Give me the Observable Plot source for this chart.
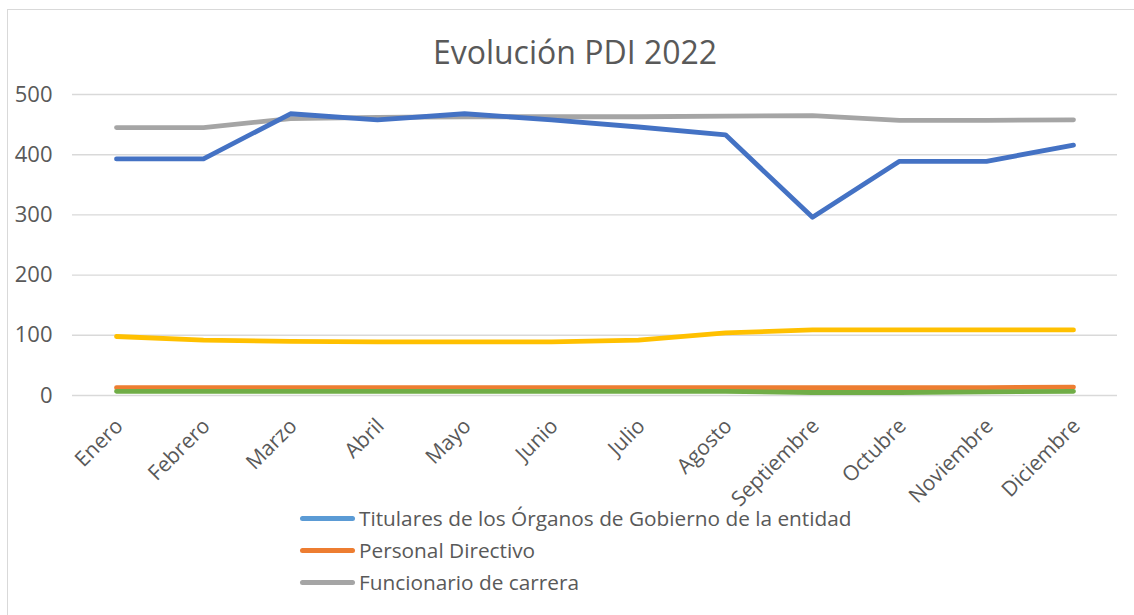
<!DOCTYPE html>
<html>
<head>
<meta charset="utf-8">
<script src="https://cdn.jsdelivr.net/npm/d3@7"></script>
<script src="https://cdn.jsdelivr.net/npm/@observablehq/plot@0.6"></script>
<style>
  html, body { margin: 0; padding: 0; background: #fff; }
  body { width: 1134px; height: 615px; overflow: hidden; position: relative; font-family: "Open Sans", sans-serif; }
  #frame { position: absolute; left: 7px; top: 9px; width: 1140px; height: 620px; border-left: 1.3px solid #d9d9d9; border-top: 1.3px solid #d9d9d9; box-sizing: border-box; }
  #title { position: absolute; left: 0; top: 0; width: 1134px; height: 80px; }
  #title div { position: absolute; left: 0; width: 1150px; top: 30px; text-align: center; font-size: 32px; color: #595959; line-height: 44px; }
  #chart { position: absolute; left: 0; top: 80px; }
  #chart svg { overflow: visible; }
  #legend { position: absolute; left: 0; top: 502px; width: 1134px; }
  .item { position: absolute; left: 300px; height: 32px; display: flex; align-items: center; }
  .swatch { width: 55px; height: 5px; border-radius: 3px; }
  .lab { margin-left: 4px; font-size: 20.8px; color: #595959; white-space: nowrap; }
</style>
</head>
<body>
<div id="frame"></div>
<div id="title"><div>Evolución PDI 2022</div></div>
<div id="chart"></div>
<div id="legend"></div>
<script>
const months = ["Enero","Febrero","Marzo","Abril","Mayo","Junio","Julio","Agosto","Septiembre","Octubre","Noviembre","Diciembre"];
const yTicks = [0, 100, 200, 300, 400, 500];

// visible lines (drawing order)
const funcionario = [445, 445, 460, 462, 463, 463, 463, 464, 465, 457, 457, 458];
const serieAzul   = [393, 393, 468, 458, 468, 458, 446, 433, 296, 389, 389, 416];
const serieAmarilla = [98, 92, 90, 89, 89, 89, 92, 104, 109, 109, 109, 109];
const directivo   = [13, 13, 13, 13, 13, 13, 13, 13, 13, 13, 13, 14];
const serieVerde  = [7, 7, 7, 7, 7, 7, 7, 7, 5, 5, 6, 7];

const seriesNames = ["Funcionario de carrera", "Serie azul", "Serie amarilla", "Personal Directivo", "Serie verde"];
const seriesValues = [funcionario, serieAzul, serieAmarilla, directivo, serieVerde];
const seriesColors = ["#A5A5A5", "#4472C4", "#FFC000", "#ED7D31", "#70AD47"];

const legendNames = ["Titulares de los Órganos de Gobierno de la entidad", "Personal Directivo", "Funcionario de carrera"];
const legendColors = ["#5B9BD5", "#ED7D31", "#A5A5A5"];

const rows = [];
seriesNames.forEach((s, si) => months.forEach((m, mi) => rows.push({serie: s, mes: m, valor: seriesValues[si][mi]})));

const W = 1134, H = 425;
const chart = Plot.plot({
  width: W, height: H,
  marginLeft: 72, marginRight: 17, marginTop: 14, marginBottom: 110,
  style: {fontFamily: "Open Sans, sans-serif", background: "transparent", overflow: "visible"},
  x: {type: "point", domain: months, padding: 0.5, axis: null},
  y: {domain: [0, 500], axis: null},
  color: {domain: seriesNames, range: seriesColors},
  marks: [
    Plot.gridY(yTicks, {stroke: "#d9d9d9", strokeOpacity: 1, strokeWidth: 1.4}),
    Plot.axisY(yTicks, {tickSize: 0, tickPadding: 20, fontSize: 22, fill: "#595959", label: null}),
    ...seriesNames.map(s => Plot.line(rows.filter(r => r.serie === s), {
      x: "mes", y: "valor", stroke: seriesColors[seriesNames.indexOf(s)], strokeWidth: 4.8,
      strokeLinecap: "round", strokeLinejoin: "round"
    })),
    Plot.text(months, {x: d => d, y: () => 0, text: d => d, rotate: -45, textAnchor: "end",
      lineAnchor: "middle", dx: 3, dy: 27, fontSize: 21, fill: "#595959"})
  ]
});
document.getElementById("chart").appendChild(chart);

const lg = document.getElementById("legend");
legendNames.forEach((n, i) => {
  const it = document.createElement("div");
  it.className = "item";
  it.style.top = (i * 32) + "px";
  const sw = document.createElement("div");
  sw.className = "swatch";
  sw.style.background = legendColors[i];
  const lb = document.createElement("div");
  lb.className = "lab";
  lb.textContent = n;
  it.appendChild(sw); it.appendChild(lb);
  lg.appendChild(it);
});
</script>
</body>
</html>
